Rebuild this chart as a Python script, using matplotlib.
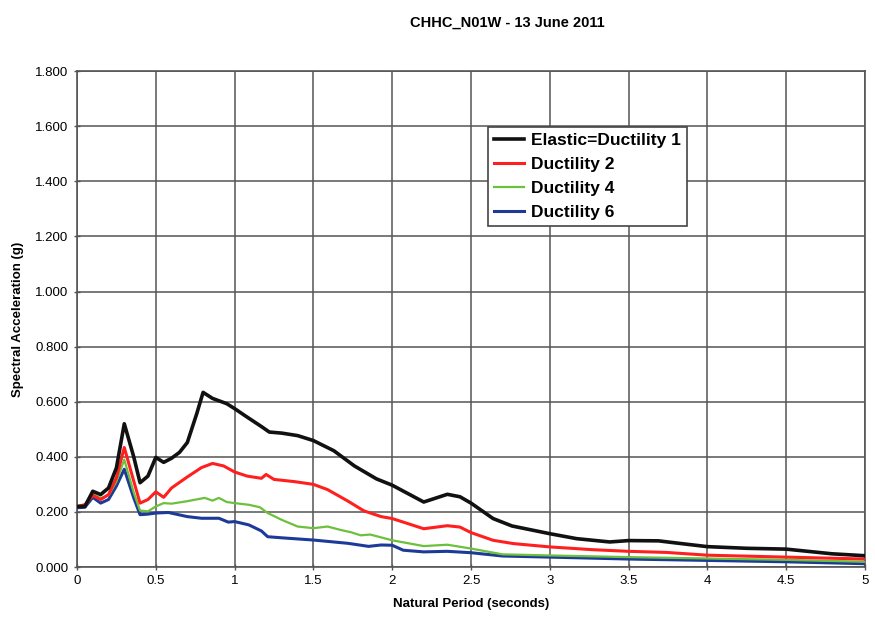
"""Response spectra for CHHC_N01W, 13 June 2011."""

# ---------- Imports ---------- #
import matplotlib
matplotlib.use("Agg")
import matplotlib.pyplot as plt
from matplotlib.ticker import FuncFormatter

# ---------- Data ---------- #
series_names = ["Elastic=Ductility 1", "Ductility 2", "Ductility 4", "Ductility 6"]

period_mu1 = [0, 0.05, 0.1, 0.15, 0.2, 0.25, 0.3, 0.36, 0.4, 0.45, 0.5, 0.55, 0.6,
              0.65, 0.7, 0.76, 0.8, 0.86, 0.95, 1.0, 1.08, 1.17, 1.22, 1.3, 1.4,
              1.5, 1.63, 1.76, 1.9, 2.0, 2.2, 2.35, 2.43, 2.5, 2.64, 2.76, 3.0,
              3.17, 3.38, 3.5, 3.69, 3.85, 4.0, 4.25, 4.5, 4.79, 5.0]
sa_mu1 = [0.22, 0.22, 0.275, 0.263, 0.287, 0.36, 0.52, 0.40, 0.306, 0.33, 0.398,
          0.38, 0.395, 0.416, 0.452, 0.557, 0.634, 0.612, 0.593, 0.575, 0.544,
          0.51, 0.49, 0.486, 0.477, 0.459, 0.422, 0.367, 0.32, 0.297, 0.236,
          0.264, 0.255, 0.232, 0.176, 0.149, 0.121, 0.103, 0.091, 0.096, 0.095,
          0.084, 0.074, 0.068, 0.065, 0.048, 0.041]

period_mu2 = [0, 0.05, 0.1, 0.15, 0.2, 0.25, 0.3, 0.36, 0.4, 0.45, 0.5, 0.55, 0.6,
              0.7, 0.79, 0.86, 0.93, 1.0, 1.08, 1.17, 1.2, 1.25, 1.38, 1.5, 1.59,
              1.72, 1.82, 1.93, 2.0, 2.2, 2.35, 2.43, 2.5, 2.64, 2.77, 3.0, 3.27,
              3.5, 3.74, 4.0, 4.5, 5.0]
sa_mu2 = [0.22, 0.226, 0.26, 0.245, 0.263, 0.324, 0.434, 0.312, 0.232, 0.245,
          0.273, 0.253, 0.287, 0.327, 0.361, 0.376, 0.367, 0.345, 0.33, 0.322,
          0.336, 0.318, 0.31, 0.30, 0.281, 0.239, 0.204, 0.183, 0.176, 0.139,
          0.150, 0.145, 0.125, 0.097, 0.085, 0.073, 0.063, 0.057, 0.053, 0.043,
          0.036, 0.029]

period_mu4 = [0, 0.05, 0.1, 0.15, 0.2, 0.25, 0.3, 0.36, 0.4, 0.45, 0.5, 0.55, 0.6,
              0.7, 0.81, 0.86, 0.9, 0.95, 1.0, 1.09, 1.16, 1.21, 1.3, 1.4, 1.5,
              1.59, 1.67, 1.74, 1.8, 1.86, 2.0, 2.2, 2.35, 2.5, 2.7, 3.0, 3.5,
              4.0, 4.5, 5.0]
sa_mu4 = [0.22, 0.22, 0.265, 0.25, 0.26, 0.31, 0.39, 0.27, 0.205, 0.202, 0.22,
          0.232, 0.23, 0.239, 0.251, 0.241, 0.251, 0.236, 0.232, 0.226, 0.217,
          0.196, 0.171, 0.147, 0.141, 0.147, 0.135, 0.126, 0.115, 0.118, 0.097,
          0.076, 0.081, 0.067, 0.046, 0.042, 0.036, 0.031, 0.026, 0.019]

period_mu6 = [0, 0.05, 0.1, 0.15, 0.2, 0.25, 0.3, 0.36, 0.4, 0.45, 0.5, 0.58, 0.7,
              0.79, 0.9, 0.96, 1.0, 1.09, 1.17, 1.21, 1.3, 1.5, 1.72, 1.85, 1.93,
              2.0, 2.07, 2.2, 2.35, 2.5, 2.7, 3.0, 3.5, 4.0, 4.5, 5.0]
sa_mu6 = [0.215, 0.217, 0.253, 0.232, 0.245, 0.294, 0.355, 0.251, 0.19, 0.192,
          0.196, 0.198, 0.183, 0.177, 0.177, 0.163, 0.165, 0.153, 0.131, 0.11,
          0.106, 0.098, 0.086, 0.075, 0.08, 0.079, 0.061, 0.055, 0.057, 0.052,
          0.04, 0.036, 0.029, 0.024, 0.019, 0.012]

x_ticks = [0, 0.5, 1, 1.5, 2, 2.5, 3, 3.5, 4, 4.5, 5]
y_ticks = [0.0, 0.2, 0.4, 0.6, 0.8, 1.0, 1.2, 1.4, 1.6, 1.8]

# ---------- Style ---------- #
plt.rcParams["font.family"] = ["Liberation Sans", "DejaVu Sans"]
colours = ["#111111", "#ff1f1f", "#6cc03c", "#1c3a98"]
widths = [2.6, 2.2, 1.6, 2.2]
grid_colour = "#555555"


# ---------- Main Function ---------- #
def main():
    fig = plt.figure(figsize=(8.75, 6.24), dpi=100)
    ax = fig.add_axes([0.088, 0.0913, 0.9006, 0.7947])

    curves = [(period_mu1, sa_mu1), (period_mu2, sa_mu2),
              (period_mu4, sa_mu4), (period_mu6, sa_mu6)]
    # draw ductility 6 first so the elastic curve sits on top
    for i in reversed(range(len(curves))):
        period, sa = curves[i]
        ax.plot(period, sa, color=colours[i], lw=widths[i],
                label=series_names[i], solid_joinstyle="round", zorder=3 + (4 - i))

    ax.set_xlim(0, 5)
    ax.set_ylim(0, 1.8)
    ax.set_xticks(x_ticks)
    ax.set_yticks(y_ticks)
    ax.xaxis.set_major_formatter(FuncFormatter(lambda v, p: f"{v:g}"))
    ax.yaxis.set_major_formatter(FuncFormatter(lambda v, p: f"{v:.3f}"))
    ax.tick_params(axis="both", labelsize=9.5, length=4, direction="inout",
                   color=grid_colour, width=1.0, pad=4)
    ax.grid(True, color=grid_colour, lw=1.1)
    for spine in ax.spines.values():
        spine.set_color(grid_colour)
        spine.set_linewidth(1.2)

    ax.set_xlabel("Natural Period (seconds)", fontsize=9.5, fontweight="bold",
                  labelpad=8)
    ax.set_ylabel("Spectral Acceleration (g)", fontsize=9.5, fontweight="bold",
                  labelpad=8)

    fig.text(0.58, 0.963, "CHHC_N01W - 13 June 2011", ha="center", va="center",
             fontsize=10.5, fontweight="bold", fontstretch="condensed")

    handles, labels = ax.get_legend_handles_labels()
    leg = ax.legend(handles[::-1], labels[::-1], loc="upper left",
                    bbox_to_anchor=(0.522, 0.887),
                    prop={"weight": "bold", "size": 12.5}, frameon=True,
                    fancybox=False, edgecolor="#444444", framealpha=1,
                    handlelength=1.7, handletextpad=0.4, borderpad=0.35,
                    labelspacing=0.5, borderaxespad=0)
    leg.get_frame().set_linewidth(1.2)

    fig.savefig("out.png", dpi=100)
    plt.close(fig)
    return 0


if __name__ == "__main__":
    main()
